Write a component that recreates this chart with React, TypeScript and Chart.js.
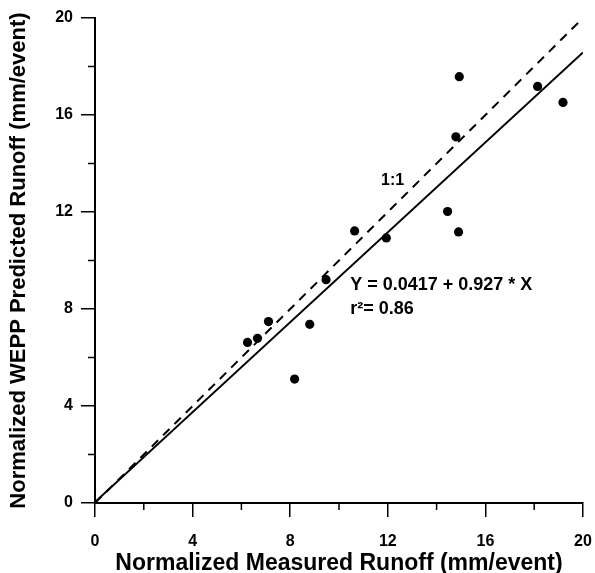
import React, { useEffect, useRef } from 'react';
import { Chart, registerables } from 'chart.js';

Chart.register(...registerables);

const measured = [6.25, 6.66, 7.11, 8.18, 8.8, 9.47, 10.64, 11.94, 14.45, 14.9, 14.93, 14.79, 18.14, 19.18];
const predicted = [6.62, 6.79, 7.48, 5.11, 7.37, 9.21, 11.22, 10.93, 12.02, 11.18, 17.58, 15.1, 17.18, 16.52];

// Regression line Y = 0.0417 + 0.927 * X, endpoints
const fitX = [0, 20];
const fitY = [0.0417, 18.5817];

// 1:1 line
const oneX = [0, 20];
const oneY = [0, 20];

const minorTicks = [2, 6, 10, 14, 18];

const FONT = '"Liberation Sans", Arial, sans-serif';

const labels = [
  { text: '1:1', x: 12.2, y: 13.3, size: 16, align: 'center' as CanvasTextAlign },
  { text: 'Y = 0.0417 + 0.927 * X', x: 10.46, y: 9.0, size: 18, align: 'left' as CanvasTextAlign },
  { text: 'r\u00B2= 0.86', x: 10.46, y: 8.0, size: 18, align: 'left' as CanvasTextAlign },
];

const extras = {
  id: 'extras',
  afterDraw(chart: any) {
    const { ctx } = chart;
    const x = chart.scales.x;
    const y = chart.scales.y;
    ctx.save();
    ctx.strokeStyle = '#000';
    ctx.lineWidth = 1.5;
    for (const v of minorTicks) {
      const px = x.getPixelForValue(v);
      ctx.beginPath();
      ctx.moveTo(px, y.bottom);
      ctx.lineTo(px, y.bottom + 7);
      ctx.stroke();
      const py = y.getPixelForValue(v);
      ctx.beginPath();
      ctx.moveTo(x.left, py);
      ctx.lineTo(x.left - 7, py);
      ctx.stroke();
    }
    ctx.fillStyle = '#000';
    ctx.textBaseline = 'middle';
    for (const l of labels) {
      ctx.font = `bold ${l.size}px ${FONT}`;
      ctx.textAlign = l.align;
      ctx.fillText(l.text, x.getPixelForValue(l.x), y.getPixelForValue(l.y));
    }
    ctx.restore();
  },
};

export default function App() {
  const ref = useRef<HTMLCanvasElement | null>(null);

  useEffect(() => {
    document.body.style.margin = '0';
    if (!ref.current) return;
    const axisCommon = (title: string, titleSize: number) => ({
      type: 'linear' as const,
      min: 0,
      max: 20,
      border: { display: true, color: '#000', width: 2 },
      grid: {
        drawOnChartArea: false,
        drawTicks: true,
        tickLength: 14,
        color: '#000',
        lineWidth: 1.5,
      },
      ticks: {
        stepSize: 4,
        color: '#000',
        font: { family: FONT, size: 16, weight: 'bold' as const },
      },
      title: {
        display: true,
        text: title,
        color: '#000',
        font: { family: FONT, size: titleSize, weight: 'bold' as const },
      },
    });
    const xAxis: any = axisCommon('Normalized Measured Runoff (mm/event)', 23);
    xAxis.ticks.padding = 15;
    xAxis.title.padding = { top: 0, bottom: -4 };
    xAxis.afterFit = (s: any) => {
      s.height = 70;
      s.paddingLeft = 0;
      s.paddingRight = 0;
    };
    const yAxis: any = axisCommon('Normalized WEPP Predicted Runoff (mm/event)', 22);
    yAxis.ticks.padding = 8;
    yAxis.title.padding = { top: 6, bottom: 0 };
    yAxis.afterFit = (s: any) => {
      s.width = 95;
      s.paddingTop = 0;
      s.paddingBottom = 0;
    };

    const chart = new Chart(ref.current, {
      type: 'scatter',
      data: {
        datasets: [
          {
            type: 'line',
            data: oneX.map((v, i) => ({ x: v, y: oneY[i] })),
            borderColor: '#000',
            borderWidth: 2,
            borderDash: [9, 7],
            pointRadius: 0,
            fill: false,
          },
          {
            type: 'line',
            data: fitX.map((v, i) => ({ x: v, y: fitY[i] })),
            borderColor: '#000',
            borderWidth: 2,
            pointRadius: 0,
            fill: false,
          },
          {
            type: 'scatter',
            data: measured.map((v, i) => ({ x: v, y: predicted[i] })),
            backgroundColor: '#000',
            borderColor: '#000',
            borderWidth: 0,
            pointRadius: 4.6,
          },
        ] as any,
      },
      options: {
        animation: false,
        responsive: false,
        layout: { padding: { top: 18, right: 12, left: 0, bottom: 0 } },
        plugins: {
          legend: { display: false },
          tooltip: { enabled: false },
        },
        scales: { x: xAxis, y: yAxis },
      },
      plugins: [extras],
    });
    return () => chart.destroy();
  }, []);

  return (
    <div style={{ width: 595, height: 573, background: '#fff' }}>
      <canvas ref={ref} width={595} height={573} />
    </div>
  );
}
